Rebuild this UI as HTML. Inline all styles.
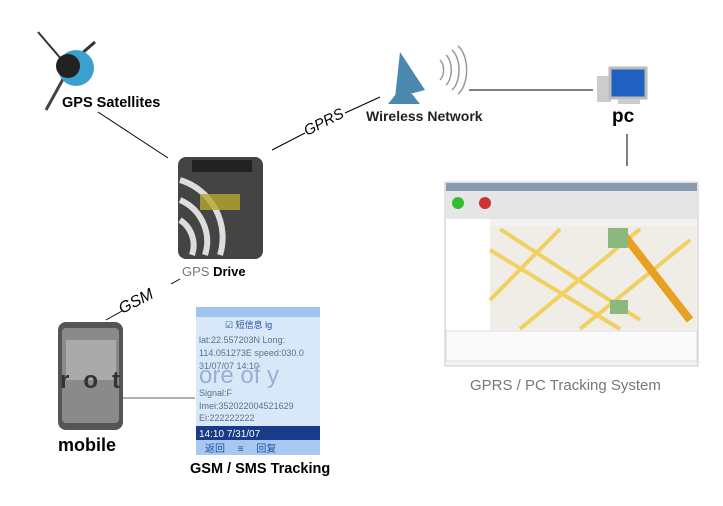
<!DOCTYPE html>
<html><head><meta charset="utf-8"><style>
html,body{margin:0;padding:0;background:#fff;width:723px;height:506px;overflow:hidden}
svg{display:block}
text{font-family:"Liberation Sans","Noto Sans CJK SC",sans-serif}
</style></head><body>
<svg width="723" height="506" viewBox="0 0 723 506" xmlns="http://www.w3.org/2000/svg">
<g stroke="#000" stroke-width="1" fill="none">
<line x1="98" y1="112" x2="168" y2="158"/>
<line x1="272" y1="150" x2="305" y2="133"/>
<line x1="345" y1="113" x2="380" y2="97"/>
<line x1="469" y1="90" x2="593" y2="90"/>
<line x1="627" y1="134" x2="627" y2="166"/>
<line x1="106" y1="320" x2="122" y2="311"/>
<line x1="171" y1="284" x2="180" y2="279"/>
<line x1="122" y1="398" x2="195" y2="398" stroke="#666"/>
</g>
<text x="0" y="0" font-size="15" font-style="italic" transform="translate(307,136) rotate(-27)">GPRS</text>
<text x="0" y="0" font-size="16" font-style="italic" transform="translate(122,314) rotate(-27)">GSM</text>

<g>
<line x1="38" y1="32" x2="62" y2="60" stroke="#333" stroke-width="2"/>
<line x1="68" y1="70" x2="46" y2="110" stroke="#444" stroke-width="3"/>
<line x1="80" y1="55" x2="95" y2="42" stroke="#333" stroke-width="3"/>
<circle cx="76" cy="68" r="18" fill="#3aa0d0"/>
<circle cx="68" cy="66" r="12" fill="#222"/>
</g>
<text x="62" y="107" font-size="14.5" font-weight="bold">GPS Satellites</text>

<rect x="178" y="157" width="85" height="102" rx="8" fill="#444"/>
<rect x="192" y="160" width="60" height="12" fill="#222"/>
<g fill="none" stroke="#ddd" stroke-width="6">
<path d="M180 180 A60 60 0 0 1 220 255"/>
<path d="M180 200 A45 45 0 0 1 205 255"/>
<path d="M180 220 A30 30 0 0 1 192 255"/>
</g>
<rect x="200" y="194" width="40" height="16" fill="#b8a830" opacity="0.8"/>
<text x="182" y="276" font-size="13"><tspan fill="#777">GPS</tspan> <tspan font-weight="bold">Drive</tspan></text>

<g fill="#4a88b0">
<path d="M400 52 L425 90 L395 98 Z"/>
<rect x="398" y="80" width="12" height="22"/>
<path d="M388 104 L420 104 L412 94 L396 94 Z"/>
</g>
<g fill="none" stroke="#999" stroke-width="1.5">
<path d="M440 60 a8 12 0 0 1 0 20"/><path d="M446 55 a10 17 0 0 1 0 30"/><path d="M452 50 a12 22 0 0 1 0 40"/><path d="M458 46 a14 26 0 0 1 0 48"/>
</g>
<text x="366" y="121" font-size="14" font-weight="bold" fill="#222">Wireless Network</text>

<rect x="597" y="76" width="14" height="26" fill="#ccc"/>
<rect x="610" y="68" width="36" height="30" fill="#2060c0" stroke="#bbb" stroke-width="3"/>
<rect x="618" y="99" width="22" height="5" fill="#ccc"/>
<text x="612" y="122" font-size="19" font-weight="bold">pc</text>

<rect x="445" y="182" width="253" height="184" fill="#f2f2f2" stroke="#ccc"/>
<rect x="446" y="183" width="251" height="8" fill="#8a9ab0"/>
<rect x="446" y="191" width="251" height="28" fill="#e6e6e6"/>
<circle cx="458" cy="203" r="6" fill="#3b3"/><circle cx="485" cy="203" r="6" fill="#c33"/>
<rect x="446" y="219" width="44" height="112" fill="#fff"/>
<rect x="490" y="226" width="206" height="103" fill="#efede6"/>
<g stroke="#f0d060" stroke-width="4">
<line x1="490" y1="250" x2="620" y2="329"/><line x1="500" y1="229" x2="640" y2="320"/>
<line x1="520" y1="329" x2="640" y2="229"/><line x1="490" y1="300" x2="560" y2="229"/>
<line x1="580" y1="329" x2="690" y2="240"/>
</g>
<line x1="620" y1="230" x2="690" y2="320" stroke="#e8a020" stroke-width="8"/>
<rect x="608" y="228" width="20" height="20" fill="#8cb880"/>
<rect x="610" y="300" width="18" height="14" fill="#8cb880"/>
<rect x="446" y="331" width="251" height="30" fill="#fafafa" stroke="#ddd"/>
<text x="470" y="390" font-size="15" fill="#777">GPRS / PC Tracking System</text>

<rect x="58" y="322" width="65" height="108" rx="8" fill="#555"/>
<rect x="62" y="328" width="57" height="95" rx="4" fill="#8a8a8a"/>
<rect x="66" y="340" width="50" height="40" fill="#aaa"/>
<text x="60" y="388" font-size="24" font-weight="bold" fill="#333" textLength="60">rot</text>
<text x="58" y="451" font-size="18" font-weight="bold">mobile</text>

<rect x="196" y="307" width="124" height="148" fill="#d8e8f8"/>
<rect x="196" y="307" width="124" height="10" fill="#a0c4f0"/>
<rect x="196" y="426" width="124" height="14" fill="#1a3a8a"/>
<rect x="196" y="440" width="124" height="15" fill="#a8c8f0"/>
<g font-size="9" fill="#5a7090">
<text x="225" y="328" fill="#2050a0">☑ 短信息 lg</text>
<text x="199" y="343">lat:22.557203N Long:</text>
<text x="199" y="356">114.051273E speed:030.0</text>
<text x="199" y="369">31/07/07 14:10</text>
<text x="199" y="396">Signal:F</text>
<text x="199" y="409">Imei:352022004521629</text>
<text x="199" y="421">Ei:222222222</text>
</g>
<text x="199" y="383" font-size="24" fill="#9ab0d0">ore of y</text>
<text x="199" y="437" font-size="10" fill="#fff">14:10 7/31/07</text>
<text x="205" y="452" font-size="10" fill="#2050a0">返回　 ≡　 回复</text>
<text x="190" y="473" font-size="14.5" font-weight="bold">GSM / SMS Tracking</text>
</svg>
</body></html>
